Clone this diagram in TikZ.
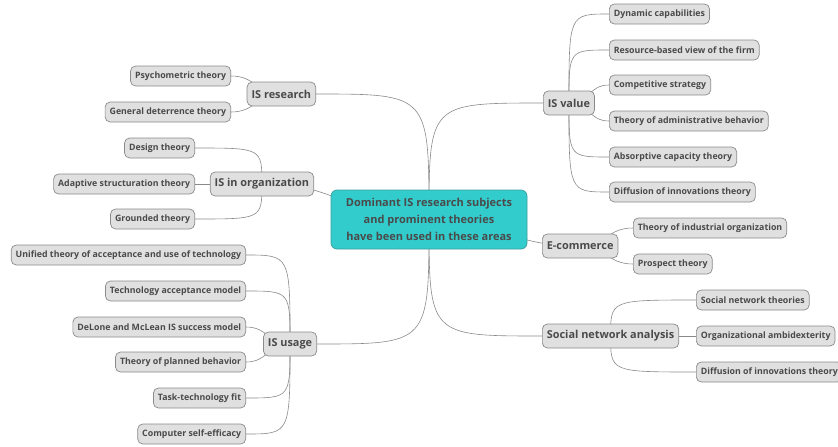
\documentclass[tikz,border=0pt]{standalone}
\usepackage{fontspec}
\setmainfont{Open Sans}
\usetikzlibrary{calc}
\definecolor{leaffill}{HTML}{E0E0E0}
\definecolor{leafdraw}{HTML}{8A8A8A}
\definecolor{txt}{HTML}{4A4A4A}
\definecolor{rootfill}{HTML}{33CCCC}
\definecolor{rootdraw}{HTML}{3A9E9E}
\definecolor{edgecol}{HTML}{8A8A8A}
\pgfdeclarelayer{bg}
\pgfsetlayers{bg,main}
\begin{document}
\begin{tikzpicture}[x=1pt,y=-1pt,
  base/.style={draw=leafdraw, fill=leaffill, rounded corners=5pt, text=txt, line width=0.7pt, inner ysep=0pt},
  leaf/.style={base, font=\bfseries\fontsize{8.8}{10}\selectfont, minimum height=20pt, inner xsep=4.5pt},
  branch/.style={base, font=\bfseries\fontsize{10.9}{13}\selectfont, minimum height=24pt, inner xsep=4.5pt},
  rootbox/.style={draw=rootdraw, fill=rootfill, rounded corners=6pt, text=txt, line width=0.7pt, font=\bfseries\fontsize{11}{17}\selectfont, align=center, minimum width=196pt, minimum height=59pt},
  conn/.style={draw=edgecol, line width=0.6pt},
  vcurve/.style={to path={.. controls (\tikztostart |- \tikztotarget) .. (\tikztotarget)}},
  scurve/.style={to path={let \p1=(\tikztostart), \p2=(\tikztotarget) in .. controls ({0.5*(\x1+\x2)},\y1) and ({0.5*(\x1+\x2)},\y2) .. (\tikztotarget)}},
]
\useasboundingbox (0,0) rectangle (838,447);

\node[rootbox] (root) at (429,219.5) {Dominant IS research subjects\\and prominent theories\\have been used in these areas};

\node[branch, anchor=east] (isr) at (316,94) {IS research};
\node[branch, anchor=east] (isorg) at (314,184) {IS in organization};
\node[branch, anchor=east] (isu) at (317,344) {IS usage};
\node[branch, anchor=west] (isv) at (543,103) {IS value};
\node[branch, anchor=west] (eco) at (542,246) {E-commerce};
\node[branch, anchor=west] (sna) at (542,336) {Social network analysis};

\node[leaf, anchor=east] (psych) at (231,76) {Psychometric theory};
\node[leaf, anchor=east] (gdt) at (231,112) {General deterrence theory};

\node[leaf, anchor=east] (design) at (195,148) {Design theory};
\node[leaf, anchor=east] (ast) at (195,184) {Adaptive structuration theory};
\node[leaf, anchor=east] (gt) at (195,219) {Grounded theory};

\node[leaf, anchor=east] (utaut) at (246,255) {Unified theory of acceptance and use of technology};
\node[leaf, anchor=east] (tam) at (246,291) {Technology acceptance model};
\node[leaf, anchor=east] (dm) at (246,327) {DeLone and McLean IS success model};
\node[leaf, anchor=east] (tpb) at (246,362) {Theory of planned behavior};
\node[leaf, anchor=east] (ttf) at (246,398) {Task-technology fit};
\node[leaf, anchor=east] (cse) at (246,434) {Computer self-efficacy};

\node[leaf, anchor=west] (dc) at (609,14) {Dynamic capabilities};
\node[leaf, anchor=west] (rbv) at (609,50) {Resource-based view of the firm};
\node[leaf, anchor=west] (cs) at (609,85) {Competitive strategy};
\node[leaf, anchor=west] (tab) at (609,121) {Theory of administrative behavior};
\node[leaf, anchor=west] (act) at (609,157) {Absorptive capacity theory};
\node[leaf, anchor=west] (dit) at (609,192) {Diffusion of innovations theory};

\node[leaf, anchor=west] (tio) at (633,228) {Theory of industrial organization};
\node[leaf, anchor=west] (pt) at (633,264) {Prospect theory};

\node[leaf, anchor=west] (snt) at (696,300) {Social network theories};
\node[leaf, anchor=west] (oa) at (696,336) {Organizational ambidexterity};
\node[leaf, anchor=west] (dit2) at (696,372) {Diffusion of innovations theory};

\begin{pgfonlayer}{bg}
\draw[conn] (root.center) to[vcurve] (isr.east);
\draw[conn] (root.center) to[vcurve] (isv.west);
\draw[conn] (root.center) to[scurve] (isorg.center);
\draw[conn] (root.center) to[scurve] (eco.center);
\draw[conn] (root.center) to[vcurve] (isu.east);
\draw[conn] (root.center) to[vcurve] (sna.west);

\draw[conn] (isr.center) to[scurve] (psych.east);
\draw[conn] (isr.center) to[scurve] (gdt.east);

\draw[conn] (isorg.center) to[vcurve] (design.east);
\draw[conn] (isorg.west) -- (ast.east);
\draw[conn] (isorg.center) to[vcurve] (gt.east);

\draw[conn] (isu.center) to[vcurve] (utaut.east);
\draw[conn] (isu.center) to[vcurve] (tam.east);
\draw[conn] (isu.center) to[scurve] (dm.east);
\draw[conn] (isu.center) to[scurve] (tpb.east);
\draw[conn] (isu.center) to[vcurve] (ttf.east);
\draw[conn] (isu.center) to[vcurve] (cse.east);

\draw[conn] (isv.center) to[vcurve] (dc.west);
\draw[conn] (isv.center) to[vcurve] (rbv.west);
\draw[conn] (isv.center) to[scurve] (cs.west);
\draw[conn] (isv.center) to[scurve] (tab.west);
\draw[conn] (isv.center) to[vcurve] (act.west);
\draw[conn] (isv.center) to[vcurve] (dit.west);

\draw[conn] (eco.center) to[scurve] (tio.west);
\draw[conn] (eco.center) to[scurve] (pt.west);

\draw[conn] (sna.center) to[vcurve] (snt.west);
\draw[conn] (sna.east) -- (oa.west);
\draw[conn] (sna.center) to[vcurve] (dit2.west);
\end{pgfonlayer}
\end{tikzpicture}
\end{document}
